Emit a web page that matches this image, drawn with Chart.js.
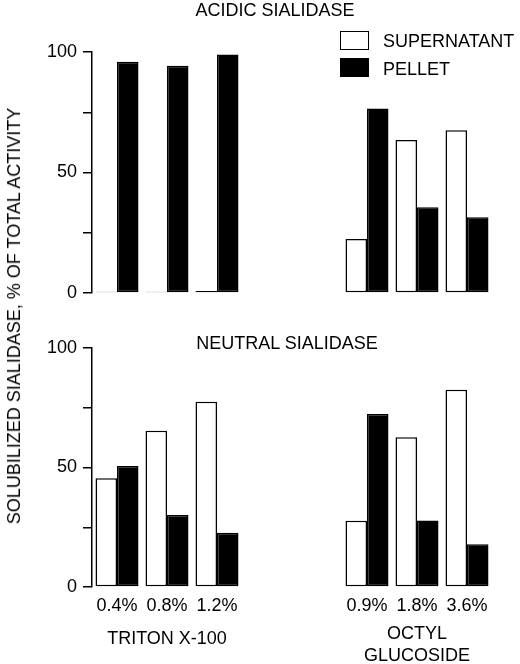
<!DOCTYPE html>
<html>
<head>
<meta charset="utf-8">
<script src="https://cdn.jsdelivr.net/npm/chart.js@4"></script>
<style>
  html, body { margin:0; padding:0; background:#fff; }
  #wrap { position:relative; width:520px; height:664px; overflow:hidden; font-family:"Liberation Sans", Arial, sans-serif; color:#000; }
  .abs { position:absolute; }
  .txt { position:absolute; font-size:18px; line-height:1; white-space:nowrap; transform:translate(-50%,-50%); }
  #c1box { left:0; top:0; width:520px; height:310px; }
  #c2box { left:0; top:320px; width:520px; height:344px; }
  .sw { position:absolute; left:340px; width:29px; height:19px; border:1.5px solid #000; box-sizing:border-box; }
  .lg { position:absolute; left:383px; font-size:18px; line-height:1; transform:translateY(-50%); }
</style>
</head>
<body>
<div id="wrap">
  <div id="c1box" class="abs"><canvas id="c1"></canvas></div>
  <div id="c2box" class="abs"><canvas id="c2"></canvas></div>
  <div class="txt" style="left:275px;top:10px;" id="t1"></div>
  <div class="txt" style="left:287px;top:343px;" id="t2"></div>
  <div class="txt" style="left:14px;top:316px;transform:translate(-50%,-50%) rotate(-90deg);" id="ytitle"></div>
  <div class="sw" style="top:31px;background:#fff;"></div>
  <div class="sw" style="top:58px;background:#000;"></div>
  <div class="lg" style="top:41px;" id="lg1"></div>
  <div class="lg" style="top:69px;" id="lg2"></div>
</div>
<script>
const categories = ['0.4%', '0.8%', '1.2%', ' ', '  ', '0.9%', '1.8%', '3.6%'];
const seriesNames = ['SUPERNATANT', 'PELLET'];
const acidicSupernatant = [0.5, 0.5, 0.8, null, null, 22.4, 63.5, 67.5];
const acidicPellet = [96, 94.3, 99, null, null, 76.6, 35.6, 31.4];
const neutralSupernatant = [45.5, 65.4, 77.5, null, null, 27.7, 62.7, 82.5];
const neutralPellet = [50.6, 30.1, 22.7, null, null, 72.4, 27.8, 17.9];
const yTickLabels = [0, 50, 100];
const panelTitles = ['ACIDIC SIALIDASE', 'NEUTRAL SIALIDASE'];
const yAxisTitle = 'SOLUBILIZED SIALIDASE, % OF TOTAL ACTIVITY';
const groupTitles = [{ index: 1, lines: ['TRITON X-100'] }, { index: 6, lines: ['OCTYL', 'GLUCOSIDE'] }];

document.getElementById('t1').textContent = panelTitles[0];
document.getElementById('t2').textContent = panelTitles[1];
document.getElementById('ytitle').textContent = yAxisTitle;
document.getElementById('lg1').textContent = seriesNames[0];
document.getElementById('lg2').textContent = seriesNames[1];

const FONT = '"Liberation Sans", Arial, sans-serif';

function makeDatasets(sup, pel) {
  return [
    { label: seriesNames[0], data: sup, backgroundColor: '#fff', borderColor: '#000', borderWidth: 1.5, borderSkipped: false,
      categoryPercentage: 0.86, barPercentage: 1.0 },
    { label: seriesNames[1], data: pel, backgroundColor: '#000', borderColor: '#000', borderWidth: 1.5, borderSkipped: false,
      categoryPercentage: 0.86, barPercentage: 1.0 }
  ];
}

function yScale() {
  return {
    min: 0, max: 100,
    afterFit: s => { s.width = 92; },
    ticks: {
      stepSize: 25, color: '#000', padding: 6,
      font: { family: FONT, size: 18 },
      callback: v => (yTickLabels.includes(v) ? String(v) : '')
    },
    grid: { drawOnChartArea: false, drawTicks: true, tickLength: 9, color: '#000', lineWidth: 1.5 },
    border: { display: true, color: '#000', width: 1.5 }
  };
}

const groupTitlePlugin = {
  id: 'groupTitles',
  afterDraw(chart) {
    const ctx = chart.ctx;
    const xs = chart.scales.x;
    ctx.save();
    ctx.fillStyle = '#000';
    ctx.font = '18px ' + FONT;
    ctx.textAlign = 'center';
    ctx.textBaseline = 'middle';
    groupTitles.forEach(g => {
      const x = xs.getPixelForValue(g.index);
      if (g.lines.length === 1) {
        ctx.fillText(g.lines[0], x, 319);
      } else {
        g.lines.forEach((l, i) => ctx.fillText(l, x, 314 + i * 22));
      }
    });
    ctx.restore();
  }
};

new Chart(document.getElementById('c1'), {
  type: 'bar',
  data: { labels: categories, datasets: makeDatasets(acidicSupernatant, acidicPellet) },
  options: {
    responsive: true, maintainAspectRatio: false, animation: false,
    layout: { padding: { left: 0, right: 28, top: 52, bottom: 17 } },
    plugins: { legend: { display: false }, tooltip: { enabled: false }, title: { display: false } },
    scales: {
      x: { display: false },
      y: yScale()
    }
  }
});

new Chart(document.getElementById('c2'), {
  type: 'bar',
  data: { labels: categories, datasets: makeDatasets(neutralSupernatant, neutralPellet) },
  options: {
    responsive: true, maintainAspectRatio: false, animation: false,
    layout: { padding: { left: 0, right: 28, top: 28, bottom: 37 } },
    plugins: { legend: { display: false }, tooltip: { enabled: false }, title: { display: false } },
    scales: {
      x: {
        afterFit: s => { s.height = 40; },
        ticks: { color: '#000', padding: 0, font: { family: FONT, size: 18 }, maxRotation: 0, autoSkip: false },
        grid: { display: false },
        border: { display: false }
      },
      y: yScale()
    }
  },
  plugins: [groupTitlePlugin]
});
</script>
</body>
</html>
